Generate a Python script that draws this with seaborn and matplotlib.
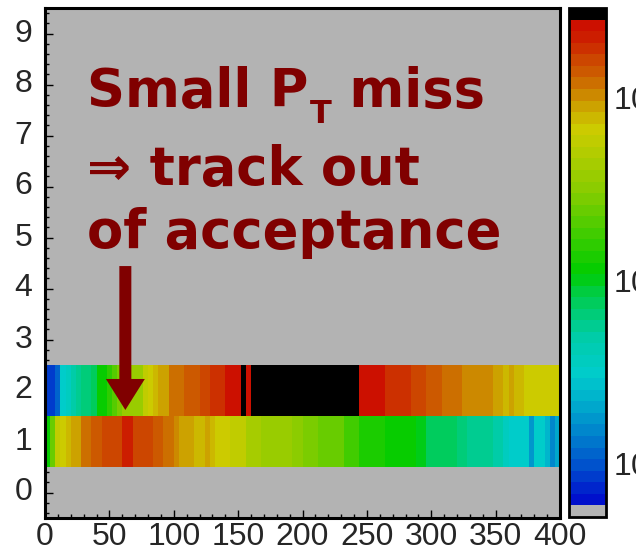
import numpy as np
import pandas as pd
import matplotlib
matplotlib.use("Agg")
import matplotlib.pyplot as plt
import seaborn as sns
from matplotlib.colors import ListedColormap, LogNorm, to_rgb
from matplotlib.patches import FancyArrow
from matplotlib.ticker import FixedLocator, LogLocator, NullFormatter

# ---------------- data ----------------
bin_width = 4
x_bin_starts = list(range(0, 400, bin_width))          # 100 bins, 0..400
y_values = [9, 8, 7, 6, 5, 4, 3, 2, 1, 0]               # rows, top -> bottom

row_y2 = [8, 8, 12, 31, 38, 48, 54, 66, 66, 72,
          111, 111, 163, 211, 272, 375, 375, 375, 375, 551,
          668, 759, 864, 864, 1190, 1190, 1190, 1443, 1443, 1443,
          1693, 1693, 1962, 1962, 1962, 2335, 2335, 2335, 2921, 2441,
          2921, 2921, 2921, 2921, 2921, 2921, 2921, 2921, 2921, 2921,
          2921, 2921, 2921, 2921, 2921, 2921, 2921, 2921, 2921, 2921,
          2921, 2441, 2441, 2441, 2441, 2441, 1829, 1829, 1829, 1829,
          1829, 1640, 1640, 1640, 1443, 1443, 1443, 1269, 1269, 1269,
          1269, 1116, 1116, 1046, 1046, 1046, 1046, 864, 864, 759,
          864, 759, 759, 668, 700, 668, 690, 668, 700, 668]

row_y1 = [111, 239, 551, 668, 759, 951, 951, 1269, 1269, 1443,
          1443, 1693, 1693, 1693, 1693, 2054, 2054, 1693, 1693, 1693,
          1693, 1443, 1443, 1214, 1190, 1116, 951, 864, 864, 759,
          759, 921, 759, 668, 668, 668, 607, 607, 607, 455,
          455, 455, 375, 375, 375, 375, 375, 375, 309, 309,
          272, 272, 272, 239, 239, 239, 239, 239, 185, 185,
          185, 143, 143, 143, 143, 143, 111, 111, 111, 111,
          111, 111, 97, 97, 79, 79, 79, 72, 72, 72,
          66, 66, 59, 59, 59, 54, 54, 48, 48, 38,
          31, 31, 31, 31, 18, 31, 31, 25, 16, 21]

x_tick_values = [0, 50, 100, 150, 200, 250, 300, 350, 400]
x_tick_labels = ["0", "50", "100", "150", "200", "250", "300", "350", "400"]
y_tick_values = [0, 1, 2, 3, 4, 5, 6, 7, 8, 9]
y_tick_labels = ["0", "1", "2", "3", "4", "5", "6", "7", "8", "9"]

z_min, z_max = 5.1, 3116.0

# ---------------- palette (ROOT-like, 44 bands) ----------------
anchor_f = [0.035, 0.10, 0.16, 0.22, 0.28, 0.35, 0.40, 0.44, 0.48, 0.52,
            0.58, 0.64, 0.70, 0.76, 0.80, 0.83, 0.86, 0.90, 0.935, 0.966]
anchor_c = ["#0010cc", "#0050cc", "#0080cc", "#00aacc", "#00cccc", "#00ccaa",
            "#00cc77", "#00cc44", "#00cc00", "#22cc00", "#55cc00", "#88cc00",
            "#aacc00", "#cccc00", "#ccaa00", "#cc8800", "#cc6600", "#cc4400",
            "#cc2200", "#cc1000"]
n_bands = 44
rgb = np.array([to_rgb(c) for c in anchor_c])
centers = (np.arange(n_bands) + 0.5) / n_bands
band_cols = np.stack([np.interp(centers, anchor_f, rgb[:, k]) for k in range(3)], axis=1)
band_cols[0] = to_rgb("#b3b3b3")
band_cols[-1] = (0, 0, 0)
cmap = ListedColormap(band_cols)
cmap.set_over("black")
cmap.set_bad((0, 0, 0, 0))

# ---------------- table ----------------
grid = np.full((len(y_values), len(x_bin_starts)), np.nan)
grid[y_values.index(2)] = row_y2
grid[y_values.index(1)] = row_y1
df = pd.DataFrame(grid, index=y_values, columns=x_bin_starts)

# ---------------- figure ----------------
sns.set_style("white")
plt.rcParams["font.family"] = ["Liberation Sans", "DejaVu Sans"]
plt.rcParams["mathtext.fontset"] = "dejavusans"

W, H = 636, 551
fig = plt.figure(figsize=(W / 100, H / 100), dpi=100)
ax = fig.add_axes([45 / W, 1 - 518 / H, 515 / W, 510 / H])
cax = fig.add_axes([569 / W, 1 - 517 / H, 37 / W, 509 / H])

sns.heatmap(df, ax=ax, cbar_ax=cax, cmap=cmap,
            norm=LogNorm(vmin=z_min, vmax=z_max), linewidths=0)

ax.set_facecolor("#b3b3b3")
for s in ax.spines.values():
    s.set_visible(True)
    s.set_color("black")
    s.set_linewidth(2.2)

# x ticks (cell coordinate = x / bin_width)
ax.xaxis.set_major_locator(FixedLocator(np.array(x_tick_values) / bin_width))
ax.set_xticklabels(x_tick_labels, rotation=0)
ax.xaxis.set_minor_locator(FixedLocator(np.arange(0, 401, 10) / bin_width))
# y ticks (cell coordinate = 9.5 - y)
ax.yaxis.set_major_locator(FixedLocator(9.5 - np.array(y_tick_values)))
ax.set_yticklabels(y_tick_labels, rotation=0)
ax.yaxis.set_minor_locator(FixedLocator(9.5 - np.arange(-0.4, 9.45, 0.2)))
ax.set_xlabel("")
ax.set_ylabel("")
ax.tick_params(which="both", direction="in", top=False, right=False,
               bottom=True, left=True, color="black", labelsize=23)
ax.tick_params(which="major", length=6, width=1)
ax.tick_params(which="minor", length=3, width=1)
ax.tick_params(axis="x", pad=3)
ax.tick_params(axis="y", pad=9)

# colorbar
cbar = ax.collections[0].colorbar
cbar.outline.set_linewidth(2)
cbar.outline.set_edgecolor("black")
cax.yaxis.set_major_locator(LogLocator(base=10))
cax.yaxis.set_minor_locator(LogLocator(base=10, subs=np.arange(2, 10)))
cax.yaxis.set_minor_formatter(NullFormatter())
cax.tick_params(which="both", direction="in", right=True, left=False,
                labelsize=23, color="black", pad=5)
cax.tick_params(which="major", length=26.6, width=1.6)
cax.tick_params(which="minor", length=12, width=1.6)

# annotation
red = "#800000"
tkw = dict(color=red, fontweight="bold", family="DejaVu Sans",
           va="baseline", ha="left")
x0 = 0.0816
y_line1 = 0.806
t1 = ax.text(x0, y_line1, "Small P", transform=ax.transAxes, fontsize=38, **tkw)
tT = ax.annotate("T", xy=(1, y_line1), xycoords=(t1, ax.transAxes),
                 xytext=(1, -16), textcoords="offset pixels", fontsize=23, **tkw)
ax.annotate(" miss", xy=(1, y_line1), xycoords=(tT, ax.transAxes),
            xytext=(0, 0), textcoords="offset pixels", fontsize=38, **tkw)
ax.text(x0, 0.652, "\u21d2 track out", transform=ax.transAxes, fontsize=38, **tkw)
ax.text(x0, 0.529, "of acceptance", transform=ax.transAxes, fontsize=38, **tkw)

arrow = FancyArrow(0.156, 0.494, 0, 0.2118 - 0.494, width=0.0233,
                   head_width=0.0757, head_length=0.0608,
                   length_includes_head=True, transform=ax.transAxes,
                   color=red, linewidth=0)
ax.add_patch(arrow)

fig.savefig("out.png", dpi=100)
